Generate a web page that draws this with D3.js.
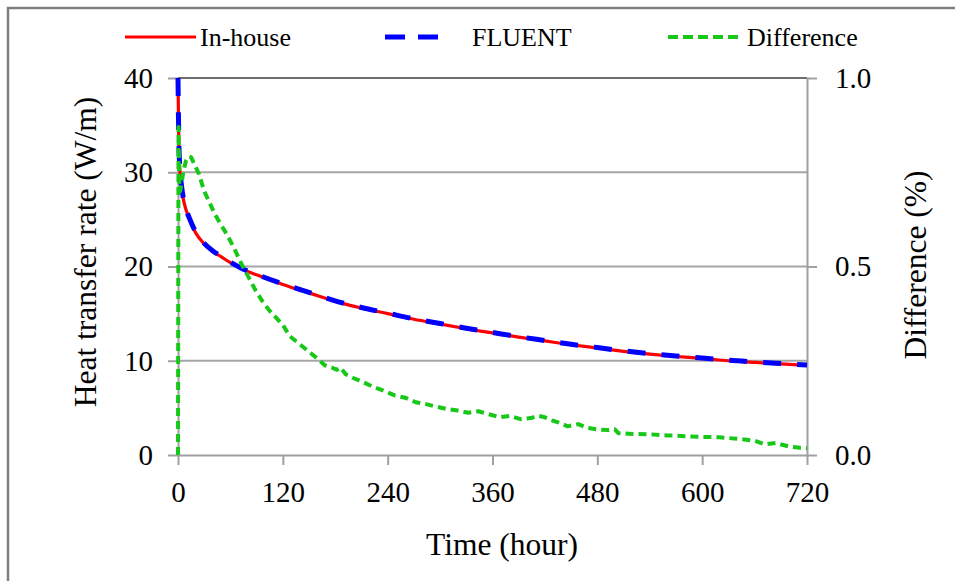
<!DOCTYPE html>
<html>
<head>
<meta charset="utf-8">
<script src="https://cdn.jsdelivr.net/npm/d3@7"></script>
<style>
  html, body { margin: 0; padding: 0; background: #fff; }
  svg { display: block; }
  text { font-family: "Liberation Serif", Tinos, "Times New Roman", serif; fill: #000; }
</style>
</head>
<body>
<svg id="chart" width="955" height="581"></svg>
<script>
// Heat transfer rate (W/m) over time (hour): in-house code vs FLUENT
const rateTime  = [0, 0.5, 1, 2, 4, 6, 10, 15, 20, 30, 40, 50, 60, 72, 96, 120, 150, 180, 210, 240, 270, 300, 330, 360, 390, 420, 450, 480, 510, 540, 570, 600, 630, 660, 690, 720];
const inHouse   = [40, 36, 33, 30.5, 28.5, 27.2, 25.8, 24.6, 23.6, 22.4, 21.6, 21.0, 20.4, 19.8, 18.9, 18.1, 17.2, 16.3, 15.6, 15.0, 14.4, 13.9, 13.4, 12.95, 12.5, 12.1, 11.7, 11.35, 11.0, 10.7, 10.45, 10.25, 10.0, 9.82, 9.66, 9.5];
const fluent    = [40, 36.1, 33.1, 30.6, 28.6, 27.3, 25.9, 24.7, 23.7, 22.45, 21.65, 21.05, 20.45, 19.85, 18.95, 18.15, 17.25, 16.35, 15.65, 15.05, 14.45, 13.95, 13.45, 13.0, 12.55, 12.15, 11.75, 11.4, 11.05, 10.75, 10.5, 10.3, 10.05, 9.87, 9.71, 9.55];

// Relative difference between the two solutions (%)
const diffTime  = [0, 0.3, 0.6, 1, 1.5, 2.5, 4, 6, 9, 12, 15, 19, 24, 30, 36, 42, 48, 56, 64, 72, 80, 88, 96, 104, 112, 120, 128, 136, 144, 152, 160, 168, 176, 182, 186, 192, 200, 212, 224, 236, 248, 260, 272, 284, 296, 308, 320, 332, 344, 356, 368, 380, 392, 404, 412, 420, 428, 436, 446, 458, 468, 480, 492, 500, 504, 520, 540, 560, 580, 600, 620, 640, 660, 672, 684, 700, 712, 720];
const difference = [0, 0.45, 0.87, 0.80, 0.72, 0.70, 0.72, 0.75, 0.78, 0.792, 0.79, 0.77, 0.745, 0.70, 0.67, 0.64, 0.615, 0.585, 0.55, 0.51, 0.475, 0.44, 0.41, 0.385, 0.365, 0.345, 0.315, 0.30, 0.285, 0.27, 0.255, 0.238, 0.232, 0.226, 0.232, 0.214, 0.205, 0.193, 0.18, 0.17, 0.158, 0.152, 0.14, 0.135, 0.128, 0.122, 0.118, 0.112, 0.116, 0.108, 0.10, 0.104, 0.095, 0.098, 0.104, 0.10, 0.092, 0.086, 0.076, 0.082, 0.072, 0.068, 0.066, 0.068, 0.058, 0.056, 0.055, 0.052, 0.05, 0.048, 0.047, 0.043, 0.038, 0.028, 0.032, 0.022, 0.019, 0.018];

const xTicks      = [0, 120, 240, 360, 480, 600, 720];
const leftTicks   = [0, 10, 20, 30, 40];
const rightTicks  = [0, 0.5, 1.0];
const legendNames = ["In-house", "FLUENT", "Difference"];

const FONT = '"Liberation Serif", Tinos, "Times New Roman", serif';

const svg = d3.select("#chart");
const plotLeft = 178, plotRight = 807, plotTop = 78, plotBottom = 455;

const x  = d3.scaleLinear().domain([0, 720]).range([plotLeft, plotRight]);
const yL = d3.scaleLinear().domain([0, 40]).range([plotBottom, plotTop]);
const yR = d3.scaleLinear().domain([0, 1]).range([plotBottom, plotTop]);

// outer frame (open at right and bottom)
svg.append("path")
  .attr("d", "M8,581V8H955")
  .attr("fill", "none")
  .attr("stroke", "#7f7f7f")
  .attr("stroke-width", 2.5);

// horizontal gridlines
svg.append("g").selectAll("line")
  .data(leftTicks.filter(d => d > 0))
  .join("line")
  .attr("x1", plotLeft).attr("x2", plotRight)
  .attr("y1", d => yL(d)).attr("y2", d => yL(d))
  .attr("stroke", d => d === 40 ? "#6e6e6e" : "#a6a6a6")
  .attr("stroke-width", 2);

function styleAxis(g) {
  g.attr("font-family", null).attr("font-size", null);
  g.selectAll(".domain").attr("stroke", "#a0a0a0").attr("stroke-width", 2);
  g.selectAll(".tick line").attr("stroke", "#a0a0a0").attr("stroke-width", 2);
  g.selectAll(".tick text")
    .attr("fill", "#000")
    .style("font-family", FONT)
    .style("font-size", "29px");
}

svg.append("g")
  .attr("transform", `translate(0,${plotBottom})`)
  .call(d3.axisBottom(x).tickValues(xTicks).tickSize(10).tickSizeOuter(0).tickPadding(16).tickFormat(d3.format("d")))
  .call(styleAxis);

svg.append("g")
  .attr("transform", `translate(${plotLeft},0)`)
  .call(d3.axisLeft(yL).tickValues(leftTicks).tickSize(10).tickSizeOuter(0).tickPadding(15).tickFormat(d3.format("d")))
  .call(styleAxis);

svg.append("g")
  .attr("transform", `translate(${plotRight},0)`)
  .call(d3.axisRight(yR).tickValues(rightTicks).tickSize(10).tickSizeOuter(0).tickPadding(18).tickFormat(d3.format(".1f")))
  .call(styleAxis);

// curves
const lineL = (xs, ys) => d3.line().x((d, i) => x(xs[i])).y((d, i) => yL(ys[i])).curve(d3.curveMonotoneX)(ys);
const lineR = (xs, ys) => d3.line().x((d, i) => x(xs[i])).y((d, i) => yR(ys[i])).curve(d3.curveLinear)(ys);

const plot = svg.append("g");

plot.append("path")
  .attr("d", lineL(rateTime, inHouse))
  .attr("fill", "none")
  .attr("stroke", "#ff0000")
  .attr("stroke-width", 3.2);

plot.append("path")
  .attr("d", lineL(rateTime, fluent))
  .attr("fill", "none")
  .attr("stroke", "#0000ff")
  .attr("stroke-width", 5)
  .attr("stroke-dasharray", "18,16");

plot.append("path")
  .attr("d", lineR(diffTime, difference))
  .attr("fill", "none")
  .attr("stroke", "#18c818")
  .attr("stroke-width", 4)
  .attr("stroke-linejoin", "round")
  .attr("stroke-dasharray", "8,5");

// legend
const legend = svg.append("g");
const legendItems = [
  { x1: 125, x2: 196, tx: 200, color: "#ff0000", w: 3.2, dash: null },
  { x1: 385, x2: 438, tx: 472, color: "#0000ff", w: 5, dash: "20,13" },
  { x1: 668, x2: 743, tx: 747, color: "#18c818", w: 4, dash: "10,5" }
];
legendItems.forEach((it, i) => {
  legend.append("line")
    .attr("x1", it.x1).attr("x2", it.x2)
    .attr("y1", 37).attr("y2", 37)
    .attr("stroke", it.color)
    .attr("stroke-width", it.w)
    .attr("stroke-dasharray", it.dash);
  legend.append("text")
    .attr("x", it.tx).attr("y", 37)
    .attr("dy", "0.33em")
    .style("font-family", FONT)
    .style("font-size", "26px")
    .text(legendNames[i]);
});

// axis titles
svg.append("text")
  .attr("transform", "translate(86,252) rotate(-90)")
  .attr("text-anchor", "middle")
  .attr("dy", "0.33em")
  .style("font-family", FONT)
  .style("font-size", "31.5px")
  .text("Heat transfer rate (W/m)");

svg.append("text")
  .attr("transform", "translate(916,265) rotate(-90)")
  .attr("text-anchor", "middle")
  .attr("dy", "0.33em")
  .style("font-family", FONT)
  .style("font-size", "31.5px")
  .text("Difference (%)");

svg.append("text")
  .attr("x", 502).attr("y", 545)
  .attr("text-anchor", "middle")
  .attr("dy", "0.33em")
  .style("font-family", FONT)
  .style("font-size", "31.5px")
  .text("Time (hour)");
</script>
</body>
</html>
